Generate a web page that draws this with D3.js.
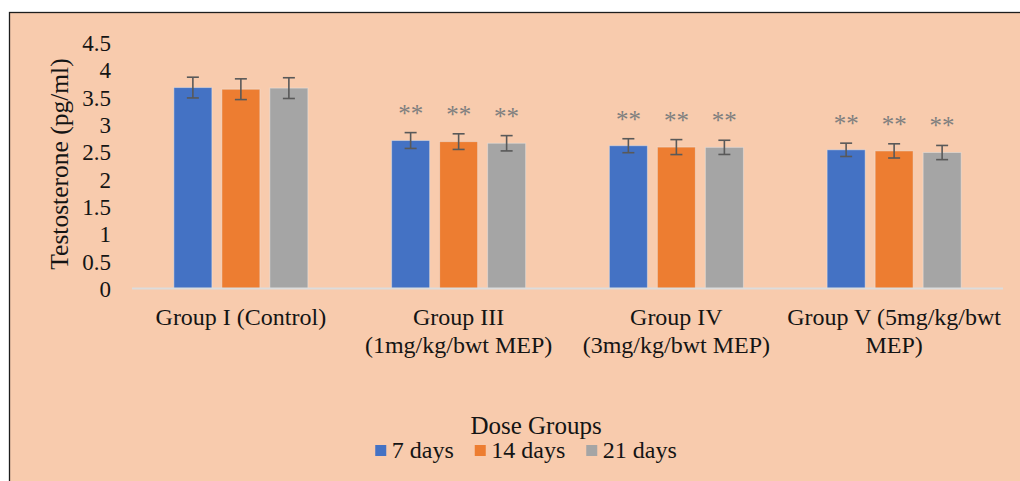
<!DOCTYPE html>
<html>
<head>
<meta charset="utf-8">
<script src="https://cdn.jsdelivr.net/npm/d3@7"></script>
<style>
  html, body { margin: 0; padding: 0; background: #ffffff; }
  svg { display: block; }
  text { font-family: "Liberation Serif", "Times New Roman", serif; fill: #141414; }
</style>
</head>
<body>
<svg id="chart" width="1020" height="481"></svg>
<script>
// Serum testosterone (pg/ml) per dose group after 7, 14 and 21 days
const groups = ["Group I (Control)", "Group III (1mg/kg/bwt MEP)", "Group IV (3mg/kg/bwt MEP)", "Group V (5mg/kg/bwt MEP)"];
const groupLabelLines = [
  ["Group I (Control)"],
  ["Group III", "(1mg/kg/bwt MEP)"],
  ["Group IV", "(3mg/kg/bwt MEP)"],
  ["Group V (5mg/kg/bwt", "MEP)"]
];
const seriesNames = ["7 days", "14 days", "21 days"];
const values7 = [3.68, 2.71, 2.615, 2.54];
const values14 = [3.65, 2.69, 2.59, 2.52];
const values21 = [3.67, 2.66, 2.585, 2.49];
const errors7 = [0.19, 0.145, 0.128, 0.122];
const errors14 = [0.19, 0.143, 0.137, 0.13];
const errors21 = [0.19, 0.14, 0.13, 0.13];
const significance = ["", "**", "**", "**"];
const yTicks = [0, 0.5, 1, 1.5, 2, 2.5, 3, 3.5, 4, 4.5];
const seriesColors = ["#4472C4", "#ED7D31", "#A5A5A5"];

const seriesValues = [values7, values14, values21];
const seriesErrors = [errors7, errors14, errors21];

const svg = d3.select("#chart");

// chart area with its frame
svg.append("rect").attr("x", 9.5).attr("y", 12.5).attr("width", 1020).attr("height", 480)
  .attr("fill", "#F8CBAD").attr("stroke", "#1e1e1e").attr("stroke-width", 1.3);

const plot = { left: 132, right: 1003, top: 42.8, bottom: 288.5 };

const x = d3.scaleBand().domain(groups).range([plot.left, plot.right]).padding(0);
const xInner = d3.scaleBand().domain(seriesNames).range([-67, 67]).paddingInner(0.2083).paddingOuter(0);
const y = d3.scaleLinear().domain([0, 4.5]).range([plot.bottom, plot.top]);

// y tick labels (no axis line, no tick marks)
const yAxis = d3.axisLeft(y).tickValues(yTicks).tickSize(0).tickPadding(0).tickFormat(d3.format(""));
const yg = svg.append("g").attr("transform", "translate(111,0)").call(yAxis);
yg.select(".domain").remove();
yg.selectAll("text").attr("font-size", 23).attr("dy", "0.34em")
  .style("font-family", '"Liberation Serif", serif').attr("fill", "#141414");

// bars
const rows = [];
groups.forEach((g, gi) => {
  seriesNames.forEach((s, si) => {
    rows.push({ group: g, gi, series: s, si, value: seriesValues[si][gi], err: seriesErrors[si][gi] });
  });
});

const cx = d => x(d.group) + x.bandwidth() / 2 + xInner(d.series);

svg.append("g").selectAll("rect").data(rows).join("rect")
  .attr("x", d => cx(d))
  .attr("y", d => y(d.value))
  .attr("width", xInner.bandwidth())
  .attr("height", d => y(0) - y(d.value))
  .attr("fill", d => seriesColors[d.si])
  .attr("stroke", "rgba(235,235,235,0.45)")
  .attr("stroke-width", 1);

// category axis line
svg.append("line").attr("x1", plot.left).attr("x2", plot.right)
  .attr("y1", y(0)).attr("y2", y(0))
  .attr("stroke", "#dcdcdc").attr("stroke-width", 2);

// error bars
const eb = svg.append("g").attr("stroke", "#595959").attr("stroke-width", 1.6);
rows.forEach(d => {
  const mx = cx(d) + xInner.bandwidth() / 2;
  const hi = y(d.value + d.err), lo = y(d.value - d.err);
  eb.append("line").attr("x1", mx).attr("x2", mx).attr("y1", hi).attr("y2", lo);
  eb.append("line").attr("x1", mx - 6).attr("x2", mx + 6).attr("y1", hi).attr("y2", hi);
  eb.append("line").attr("x1", mx - 6).attr("x2", mx + 6).attr("y1", lo).attr("y2", lo);
});

// significance marks
svg.append("g").selectAll("text").data(rows.filter(d => significance[d.gi])).join("text")
  .attr("x", d => cx(d) + xInner.bandwidth() / 2)
  .attr("y", d => y(d.value + d.err) - 11)
  .attr("text-anchor", "middle")
  .attr("font-size", 25)
  .style("fill", "#7f7f7f")
  .text(d => significance[d.gi]);

// category labels
groups.forEach((g, gi) => {
  const t = svg.append("text")
    .attr("x", x(g) + x.bandwidth() / 2)
    .attr("y", 325)
    .attr("text-anchor", "middle")
    .attr("font-size", 24);
  groupLabelLines[gi].forEach((line, li) => {
    t.append("tspan").attr("x", x(g) + x.bandwidth() / 2).attr("dy", li === 0 ? 0 : 27.5).text(line);
  });
});

// axis titles
svg.append("text")
  .attr("transform", "translate(68,164) rotate(-90)")
  .attr("text-anchor", "middle")
  .attr("font-size", 25.5)
  .text("Testosterone (pg/ml)");

svg.append("text")
  .attr("x", 536).attr("y", 434)
  .attr("text-anchor", "middle")
  .attr("font-size", 25)
  .text("Dose Groups");

// legend
const legend = svg.append("g");
let lx = 0;
seriesNames.forEach((s, si) => {
  const item = legend.append("g").attr("transform", `translate(${lx},0)`);
  item.append("rect").attr("x", 0).attr("y", 445).attr("width", 11).attr("height", 11).attr("fill", seriesColors[si]);
  const t = item.append("text").attr("x", 16.5).attr("y", 458).attr("font-size", 24).text(s);
  lx += 16.5 + t.node().getComputedTextLength() + 21;
});
const legendWidth = lx - 21;
legend.attr("transform", `translate(${526 - legendWidth / 2},0)`);
</script>
</body>
</html>
